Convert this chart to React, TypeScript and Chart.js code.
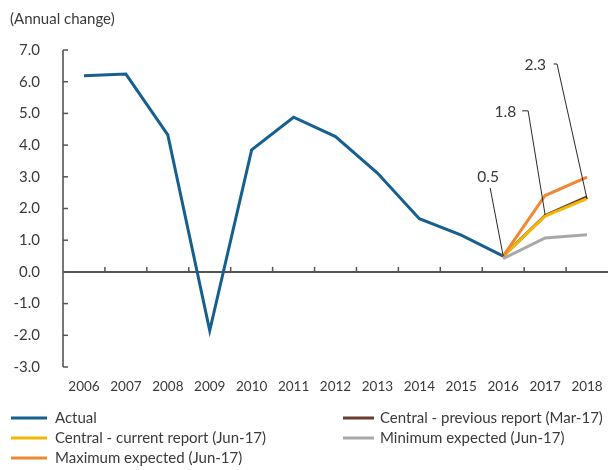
import React, { useEffect, useRef } from "react";
import { Chart, registerables } from "chart.js";

Chart.register(...registerables);

const years = ["2006", "2007", "2008", "2009", "2010", "2011", "2012", "2013", "2014", "2015", "2016", "2017", "2018"];
const actual = [6.19, 6.24, 4.32, -1.85, 3.85, 4.88, 4.27, 3.12, 1.68, 1.16, 0.5, null, null];
const centralCurrent = [null, null, null, null, null, null, null, null, null, null, 0.5, 1.76, 2.31];
const centralPrevious = [null, null, null, null, null, null, null, null, null, null, 0.5, 1.78, 2.37];
const minimumExpected = [null, null, null, null, null, null, null, null, null, null, 0.42, 1.07, 1.17];
const maximumExpected = [null, null, null, null, null, null, null, null, null, null, 0.5, 2.41, 2.99];

const yTicks = [-3, -2, -1, 0, 1, 2, 3, 4, 5, 6, 7];

// annotation callouts: label, category, value
const calloutLabels = ["0.5", "1.8", "2.3"];
const calloutYears = ["2016", "2017", "2018"];
const calloutValues = [0.5, 1.8, 2.3];

const FONT = "Lato, 'Open Sans', sans-serif";
const TEXT = "#3a3a3a";

const COLORS = {
  actual: "#165f8f",
  current: "#f2b705",
  previous: "#6b3b2c",
  minimum: "#a8a8a8",
  maximum: "#ef8733",
};

const legendItems = [
  { label: "Actual", color: COLORS.actual, col: 0, row: 0 },
  { label: "Central - previous report (Mar-17)", color: COLORS.previous, col: 1, row: 0 },
  { label: "Central - current report (Jun-17)", color: COLORS.current, col: 0, row: 1 },
  { label: "Minimum expected (Jun-17)", color: COLORS.minimum, col: 1, row: 1 },
  { label: "Maximum expected (Jun-17)", color: COLORS.maximum, col: 0, row: 2 },
];

// callout geometry (pixel offsets relative to data point)
const calloutGeom = [
  { lx: -13, ly: -68, hx: 0, tx: -15, ty: -79, align: "center" },
  { lx: -17, ly: -104, hx: -6, tx: -29, ty: -103, align: "right" },
  { lx: -30, ly: -135, hx: -3.5, tx: -41, ty: -134, align: "right" },
];

const decorPlugin = {
  id: "decor",
  beforeDatasetsDraw(chart: any) {
    const { ctx, chartArea, scales } = chart;
    const x = scales.x;
    const y = scales.y;
    const y0 = y.getPixelForValue(0);
    ctx.save();
    // zero line
    ctx.strokeStyle = "#1a1a1a";
    ctx.lineWidth = 1.5;
    ctx.beginPath();
    ctx.moveTo(chartArea.left, y0);
    ctx.lineTo(chartArea.right, y0);
    ctx.stroke();
    // x tick marks at category boundaries
    ctx.strokeStyle = "#555";
    ctx.lineWidth = 1.5;
    for (let i = 1; i < years.length; i++) {
      const px = (x.getPixelForValue(i - 1) + x.getPixelForValue(i)) / 2;
      ctx.beginPath();
      ctx.moveTo(px, y0);
      ctx.lineTo(px, y0 - 5);
      ctx.stroke();
    }
    // y axis line
    ctx.strokeStyle = "#777";
    ctx.lineWidth = 2;
    ctx.beginPath();
    ctx.moveTo(chartArea.left, y.getPixelForValue(yTicks[yTicks.length - 1]));
    ctx.lineTo(chartArea.left, y.getPixelForValue(yTicks[0]));
    ctx.stroke();
    ctx.strokeStyle = "#555";
    ctx.lineWidth = 1.5;
    yTicks.forEach((v) => {
      const py = y.getPixelForValue(v);
      ctx.beginPath();
      ctx.moveTo(chartArea.left, py);
      ctx.lineTo(chartArea.left + 5, py);
      ctx.stroke();
    });
    ctx.restore();
  },
  afterDraw(chart: any) {
    const { ctx, scales } = chart;
    const x = scales.x;
    const y = scales.y;
    ctx.save();
    // title
    ctx.fillStyle = TEXT;
    ctx.font = `15px ${FONT}`;
    ctx.textAlign = "left";
    ctx.textBaseline = "middle";
    ctx.fillText("(Annual change)", 10, 19);

    // callouts
    calloutLabels.forEach((lab, i) => {
      const g = calloutGeom[i];
      const px = x.getPixelForValue(years.indexOf(calloutYears[i]));
      const py = y.getPixelForValue(calloutValues[i]);
      ctx.strokeStyle = "#111";
      ctx.lineWidth = 0.9;
      ctx.beginPath();
      ctx.moveTo(px, py);
      ctx.lineTo(px + g.lx, py + g.ly);
      if (g.hx) ctx.lineTo(px + g.lx + g.hx, py + g.ly);
      ctx.stroke();
      ctx.fillStyle = TEXT;
      ctx.font = `15.5px ${FONT}`;
      ctx.textAlign = g.align as CanvasTextAlign;
      ctx.textBaseline = "middle";
      ctx.fillText(lab, px + g.tx, py + g.ty);
    });

    // legend
    ctx.font = `15px ${FONT}`;
    ctx.textAlign = "left";
    ctx.textBaseline = "middle";
    legendItems.forEach((it) => {
      const lx0 = it.col === 0 ? 11 : 343;
      const lx1 = it.col === 0 ? 47 : 374;
      const tx = it.col === 0 ? 55 : 380;
      const ly = 418 + it.row * 20;
      ctx.strokeStyle = it.color;
      ctx.lineWidth = 3;
      ctx.beginPath();
      ctx.moveTo(lx0, ly);
      ctx.lineTo(lx1, ly);
      ctx.stroke();
      ctx.fillStyle = TEXT;
      ctx.fillText(it.label, tx, ly);
    });
    ctx.restore();
  },
};

export default function App() {
  const ref = useRef<HTMLCanvasElement | null>(null);
  useEffect(() => {
    if (!ref.current) return;
    const ds = (label: string, data: any[], color: string) => ({
      label,
      data,
      borderColor: color,
      backgroundColor: color,
      borderWidth: 3,
      pointRadius: 0,
      tension: 0,
      fill: false,
      spanGaps: false,
    });
    const chart = new Chart(ref.current, {
      type: "line",
      data: {
        labels: years,
        datasets: [
          ds("Maximum expected (Jun-17)", maximumExpected, COLORS.maximum),
          ds("Central - current report (Jun-17)", centralCurrent, COLORS.current),
          ds("Central - previous report (Mar-17)", centralPrevious, COLORS.previous),
          ds("Minimum expected (Jun-17)", minimumExpected, COLORS.minimum),
          ds("Actual", actual, COLORS.actual),
        ],
      },
      options: {
        animation: false,
        responsive: false,
        maintainAspectRatio: false,
        layout: { padding: { top: 50, bottom: 73, left: 8, right: -1 } },
        plugins: { legend: { display: false }, tooltip: { enabled: false } },
        scales: {
          x: {
            offset: true,
            grid: { display: false, drawTicks: false },
            border: { display: false },
            ticks: { color: TEXT, font: { family: FONT, size: 13.5 }, padding: 12, maxRotation: 0, autoSkip: false },
            afterFit: (s: any) => {
              s.height = 30;
              s.paddingLeft = 0;
              s.paddingRight = 0;
            },
          },
          y: {
            min: -3,
            max: 7,
            grid: { display: false, drawTicks: false },
            border: { display: false },
            ticks: {
              stepSize: 1,
              color: TEXT,
              font: { family: FONT, size: 15 },
              padding: 23,
              callback: (v: any) => Number(v).toFixed(1),
            },
            afterFit: (s: any) => { s.width = 55; },
          },
        },
      },
      plugins: [decorPlugin],
    });
    return () => chart.destroy();
  }, []);
  return (
    <div style={{ position: "fixed", left: 0, top: 0, width: 608, height: 470, background: "#fff" }}>
      <canvas ref={ref} width={608} height={470} style={{ display: "block", width: 608, height: 470 }} />
    </div>
  );
}
